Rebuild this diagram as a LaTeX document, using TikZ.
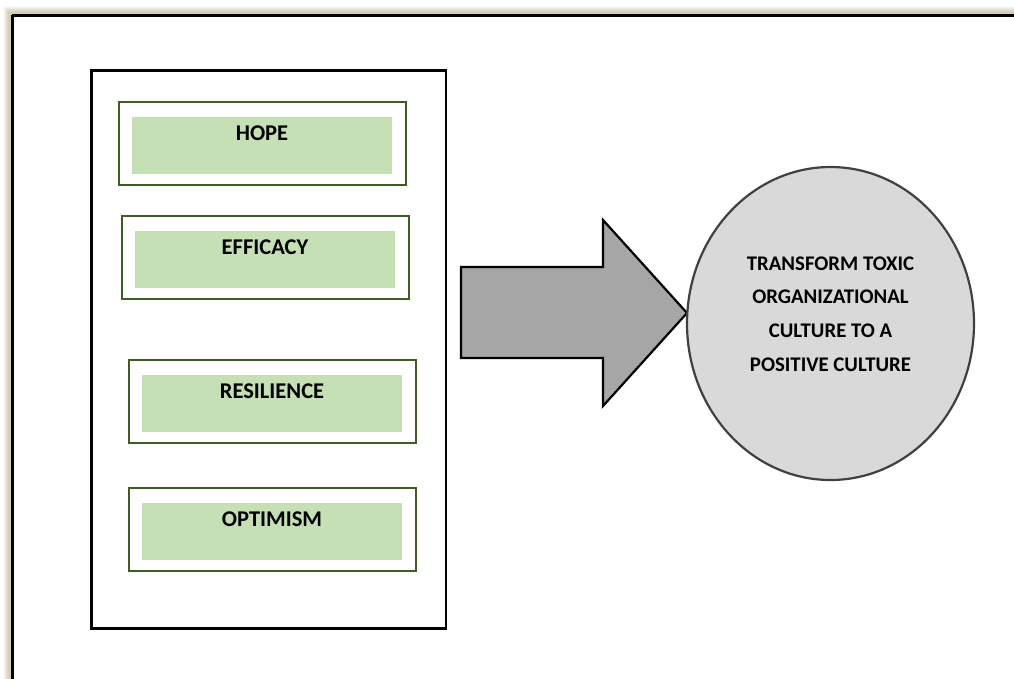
\documentclass[tikz,border=0pt]{standalone}
\usepackage{fontspec}
\setmainfont{Carlito}
\usetikzlibrary{shapes.geometric}
\definecolor{itemgreen}{HTML}{C5E0B4}
\definecolor{itemedge}{HTML}{3D5E24}
\definecolor{arrowgray}{HTML}{A6A6A6}
\definecolor{goalgray}{HTML}{D9D9D9}
\definecolor{shadowtan}{HTML}{D2CDB5}
\begin{document}
\begin{tikzpicture}[x=1pt,y=-1pt,
  framebox/.style={draw=black,line width=2.6pt},
  itembox/.style={draw=itemedge,line width=2.8pt,fill=white},
  itemfill/.style={fill=itemgreen,draw=none},
  itemlabel/.style={font=\bfseries\fontsize{22.5}{26}\selectfont,anchor=base,inner sep=0pt},
  bigarrow/.style={draw=black,line width=2.2pt,fill=arrowgray,line join=miter},
  goal/.style={ellipse,draw=black!75,line width=2.2pt,fill=goalgray,minimum width=287pt,minimum height=313pt,inner sep=0pt},
  goaltext/.style={align=center,inner sep=0pt,font=\bfseries\fontsize{20.8}{33.7}\selectfont}]
\useasboundingbox (0,0) rectangle (1014,678);
\fill[white] (0,0) rectangle (1014,678);
% soft shadow round the page frame
\foreach \d/\o in {9/0.10,8/0.15,7/0.2,6/0.3,5/0.4,4/0.5,3/0.6,2/0.75,1/0.9}{
  \fill[shadowtan,opacity=\o,even odd rule] (12-\d,15-\d) rectangle (1030,700) (12,15) rectangle (1030,700);
}
\draw[framebox] (12.3,15.3) -- (1020,15.3) (12.3,15.3) -- (12.3,690);
% panel holding the four capacities
\draw[framebox,line width=2.4pt] (91.5,70.5) rectangle (446,628.5);
\foreach \n/\x/\y/\t in {hope/118/101/HOPE,efficacy/121/215/EFFICACY,resilience/128/359/RESILIENCE,optimism/128/487/OPTIMISM}{
  \draw[itembox] (\x+1,\y+1) rectangle (\x+288,\y+84);
  \fill[itemfill] (\x+14,\y+16) rectangle (\x+274,\y+73);
  \node[itemlabel] (\n) at (\x+144,\y+39.5) {\t};
}
% block arrow
\coordinate (tip) at (687,313);
\draw[bigarrow] (461,267) -- (603,267) -- (603,220) -- (tip) -- (603,406) -- (603,358) -- (461,358) -- cycle;
% goal
\node[goal] (goalnode) at (830.5,323.5) {};
\node[goaltext] (goallabel) at ([yshift=9.5pt]goalnode.center) {TRANSFORM TOXIC\\ORGANIZATIONAL\\CULTURE TO A\\POSITIVE CULTURE};
\end{tikzpicture}
\end{document}
